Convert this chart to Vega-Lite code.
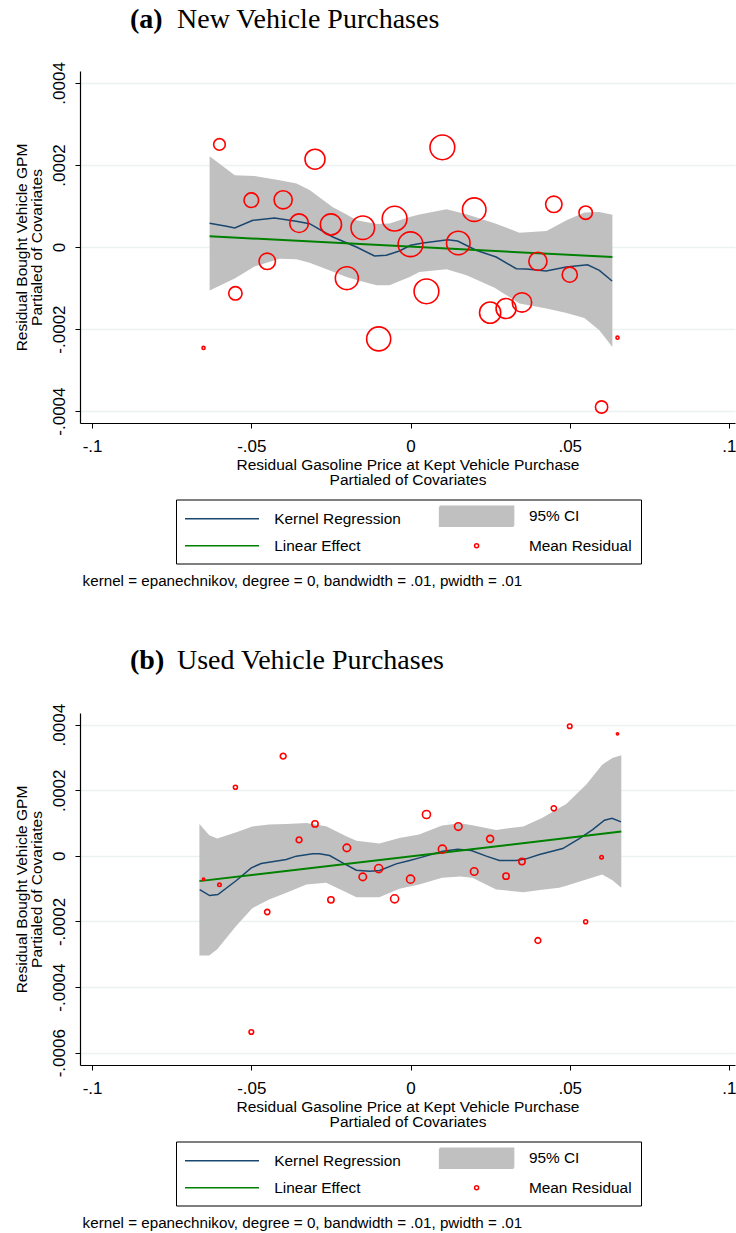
{
  "$schema": "https://vega.github.io/schema/vega-lite/v6.json",
  "background": "white",
  "padding": {"left": 14, "top": 5, "right": 0, "bottom": 5},
  "config": {
    "view": {"stroke": null},
    "font": "Liberation Sans",
    "axis": {
      "domainColor": "#000000", "domainWidth": 1.2, "tickColor": "#000000", "tickSize": 5, "tickWidth": 1,
      "labelFont": "Liberation Sans", "labelFontSize": 17, "labelColor": "#000000",
      "titleFont": "Liberation Sans", "titleFontSize": 15.5, "titleFontWeight": "normal", "titleColor": "#000000", "titleLineHeight": 15,
      "gridColor": "#eaf2f3", "gridWidth": 1.3, "labelOverlap": false, "labelFlush": false
    },
    "axisX": {"grid": false, "labelPadding": 10, "titlePadding": 3.5},
    "axisY": {"grid": true, "labelAngle": -90, "labelAlign": "center", "labelBaseline": "bottom", "labelPadding": 7, "titlePadding": 6},
    "legend": {
      "orient": "none", "legendX": 96, "legendY": 428.5, "columns": 2,
      "strokeColor": "#000000", "fillColor": "#ffffff", "padding": 9, "columnPadding": 35.6, "rowPadding": 8.5,
      "symbolSize": 16, "symbolStrokeWidth": 1.5, "symbolOffset": 29.3, "labelOffset": 44.6,
      "labelFont": "Liberation Sans", "labelFontSize": 15.4, "labelColor": "#000000", "labelLimit": 400
    },
    "title": {"font": "Liberation Serif", "fontSize": 28, "fontWeight": "normal", "color": "#000000", "anchor": "start", "frame": "group"}
  },
  "datasets": {
    "a_points": [
      {"x": -0.065, "y": -0.000246, "w": 3},
      {"x": -0.06, "y": 0.00025, "w": 43},
      {"x": -0.055, "y": -0.000113, "w": 57},
      {"x": -0.05, "y": 0.000114, "w": 68},
      {"x": -0.045, "y": -0.000035, "w": 86},
      {"x": -0.04, "y": 0.000115, "w": 105},
      {"x": -0.035, "y": 0.000058, "w": 111},
      {"x": -0.03, "y": 0.000214, "w": 127},
      {"x": -0.025, "y": 0.000055, "w": 143},
      {"x": -0.02, "y": -0.000076, "w": 168},
      {"x": -0.015, "y": 0.000047, "w": 176},
      {"x": -0.01, "y": -0.000224, "w": 184},
      {"x": -0.005, "y": 0.000069, "w": 195},
      {"x": 0, "y": 0.0000066, "w": 195},
      {"x": 0.005, "y": -0.000108, "w": 195},
      {"x": 0.01, "y": 0.000243, "w": 195},
      {"x": 0.015, "y": 0.0000098, "w": 176},
      {"x": 0.02, "y": 0.000091, "w": 176},
      {"x": 0.025, "y": -0.00016, "w": 143},
      {"x": 0.03, "y": -0.00015, "w": 127},
      {"x": 0.035, "y": -0.000135, "w": 120},
      {"x": 0.04, "y": -0.000035, "w": 105},
      {"x": 0.045, "y": 0.000104, "w": 86},
      {"x": 0.05, "y": -0.0000675, "w": 73},
      {"x": 0.055, "y": 0.0000837, "w": 57},
      {"x": 0.06, "y": -0.00039, "w": 48},
      {"x": 0.065, "y": -0.000221, "w": 3}
    ],
    "a_kernel": [
      {"x": -0.0631, "y": 0.0000578},
      {"x": -0.0578, "y": 0.0000505},
      {"x": -0.0552, "y": 0.0000463},
      {"x": -0.0495, "y": 0.0000651},
      {"x": -0.0427, "y": 0.0000707},
      {"x": -0.0359, "y": 0.0000627},
      {"x": -0.0317, "y": 0.0000568},
      {"x": -0.0244, "y": 0.0000244},
      {"x": -0.017, "y": 0.0},
      {"x": -0.0113, "y": -0.000022},
      {"x": -0.0076, "y": -0.0000202},
      {"x": -0.0035, "y": -0.0000098},
      {"x": 0.0, "y": 0.0000041},
      {"x": 0.0039, "y": 0.0000098},
      {"x": 0.0117, "y": 0.0000178},
      {"x": 0.0148, "y": 0.0000146},
      {"x": 0.0206, "y": -0.000008},
      {"x": 0.0269, "y": -0.0000244},
      {"x": 0.0332, "y": -0.0000529},
      {"x": 0.0363, "y": -0.0000537},
      {"x": 0.0426, "y": -0.0000585},
      {"x": 0.0489, "y": -0.0000488},
      {"x": 0.0556, "y": -0.0000432},
      {"x": 0.0593, "y": -0.0000568},
      {"x": 0.0633, "y": -0.0000829}
    ],
    "a_band": [
      {"x": -0.0631, "lo": -0.000106, "hi": 0.000221},
      {"x": -0.0552, "lo": -0.0000768, "hi": 0.000175},
      {"x": -0.049, "lo": -0.0000476, "hi": 0.000173},
      {"x": -0.0411, "lo": -0.0000285, "hi": 0.000163},
      {"x": -0.0358, "lo": -0.00003, "hi": 0.000155},
      {"x": -0.0317, "lo": -0.0000385, "hi": 0.000139},
      {"x": -0.0245, "lo": -0.0000598, "hi": 0.0000976},
      {"x": -0.0201, "lo": -0.0000732, "hi": 0.0000793},
      {"x": -0.0169, "lo": -0.0000805, "hi": 0.0000651},
      {"x": -0.0107, "lo": -0.0000934, "hi": 0.0000561},
      {"x": -0.0066, "lo": -0.0000934, "hi": 0.0000573},
      {"x": -0.0003, "lo": -0.0000732, "hi": 0.0000732},
      {"x": 0.0028, "lo": -0.000061, "hi": 0.0000793},
      {"x": 0.0113, "lo": -0.0000544, "hi": 0.000092},
      {"x": 0.0176, "lo": -0.000069, "hi": 0.0000798},
      {"x": 0.0264, "lo": -0.0000993, "hi": 0.000058},
      {"x": 0.0342, "lo": -0.000138, "hi": 0.0000349},
      {"x": 0.0427, "lo": -0.00015, "hi": 0.000039},
      {"x": 0.049, "lo": -0.000161, "hi": 0.0000651},
      {"x": 0.0546, "lo": -0.000173, "hi": 0.0000841},
      {"x": 0.0593, "lo": -0.000203, "hi": 0.0000854},
      {"x": 0.0634, "lo": -0.000244, "hi": 0.0000788}
    ],
    "a_linear": [
      {"x": -0.0631, "y": 0.0000261},
      {"x": 0.0634, "y": -0.0000244}
    ],
    "b_points": [
      {"x": -0.065, "y": -0.000071, "w": 1.6},
      {"x": -0.06, "y": -0.0000883, "w": 3.8},
      {"x": -0.055, "y": 0.000209, "w": 5.1},
      {"x": -0.05, "y": -0.000537, "w": 6.6},
      {"x": -0.045, "y": -0.000171, "w": 8.7},
      {"x": -0.04, "y": 0.000304, "w": 10.6},
      {"x": -0.035, "y": 0.0000487, "w": 10.6},
      {"x": -0.03, "y": 0.0000975, "w": 12.6},
      {"x": -0.025, "y": -0.000134, "w": 12.6},
      {"x": -0.02, "y": 0.0000244, "w": 18},
      {"x": -0.015, "y": -0.000064, "w": 18},
      {"x": -0.01, "y": -0.0000387, "w": 20.7},
      {"x": -0.005, "y": -0.000131, "w": 20.7},
      {"x": 0, "y": -0.000071, "w": 20.7},
      {"x": 0.005, "y": 0.000126, "w": 20.7},
      {"x": 0.01, "y": 0.0000204, "w": 20.7},
      {"x": 0.015, "y": 0.0000893, "w": 18},
      {"x": 0.02, "y": -0.0000477, "w": 18},
      {"x": 0.025, "y": 0.0000518, "w": 15.6},
      {"x": 0.03, "y": -0.0000619, "w": 12.6},
      {"x": 0.035, "y": -0.0000173, "w": 12.6},
      {"x": 0.04, "y": -0.000258, "w": 10.6},
      {"x": 0.045, "y": 0.000145, "w": 8.7},
      {"x": 0.05, "y": 0.000395, "w": 6.6},
      {"x": 0.055, "y": -0.000201, "w": 5.1},
      {"x": 0.06, "y": -0.000004, "w": 3.8},
      {"x": 0.065, "y": 0.000372, "w": 1.6}
    ],
    "b_kernel": [
      {"x": -0.0662, "y": -0.0001026},
      {"x": -0.0631, "y": -0.0001209},
      {"x": -0.0605, "y": -0.0001179},
      {"x": -0.0547, "y": -0.0000752},
      {"x": -0.05, "y": -0.0000365},
      {"x": -0.0469, "y": -0.0000235},
      {"x": -0.039, "y": -0.0000113},
      {"x": -0.0359, "y": -0.0000009},
      {"x": -0.0307, "y": 0.0000061},
      {"x": -0.0286, "y": 0.0000061},
      {"x": -0.0254, "y": 0.0000009},
      {"x": -0.0213, "y": -0.0000213},
      {"x": -0.017, "y": -0.0000436},
      {"x": -0.0129, "y": -0.0000466},
      {"x": -0.0097, "y": -0.0000448},
      {"x": -0.0045, "y": -0.0000244},
      {"x": -0.0003, "y": -0.0000143},
      {"x": 0.0028, "y": -0.0000061},
      {"x": 0.0101, "y": 0.0000143},
      {"x": 0.0148, "y": 0.0000204},
      {"x": 0.0191, "y": 0.0000161},
      {"x": 0.0238, "y": -0.0000009},
      {"x": 0.0279, "y": -0.0000143},
      {"x": 0.0332, "y": -0.0000143},
      {"x": 0.0363, "y": -0.0000091},
      {"x": 0.0405, "y": 0.000004},
      {"x": 0.0478, "y": 0.0000222},
      {"x": 0.053, "y": 0.0000527},
      {"x": 0.0572, "y": 0.0000801},
      {"x": 0.0609, "y": 0.0001087},
      {"x": 0.0633, "y": 0.0001148},
      {"x": 0.0661, "y": 0.0001036}
    ],
    "b_band": [
      {"x": -0.0663, "lo": -0.0003037, "hi": 0.0000975},
      {"x": -0.0632, "lo": -0.0003037, "hi": 0.000063},
      {"x": -0.0607, "lo": -0.0002848, "hi": 0.0000527},
      {"x": -0.0547, "lo": -0.0002132, "hi": 0.0000722},
      {"x": -0.0497, "lo": -0.0001593, "hi": 0.0000898},
      {"x": -0.0444, "lo": -0.0001331, "hi": 0.0000959},
      {"x": -0.039, "lo": -0.0001127, "hi": 0.0000975},
      {"x": -0.0327, "lo": -0.0000874, "hi": 0.0001005},
      {"x": -0.0265, "lo": -0.0000822, "hi": 0.0000905},
      {"x": -0.0202, "lo": -0.0001106, "hi": 0.00006},
      {"x": -0.017, "lo": -0.0001258, "hi": 0.0000463},
      {"x": -0.0098, "lo": -0.0001258, "hi": 0.0000375},
      {"x": -0.0035, "lo": -0.0001005, "hi": 0.0000548},
      {"x": 0.0027, "lo": -0.0000874, "hi": 0.0000649},
      {"x": 0.0099, "lo": -0.000067, "hi": 0.0000923},
      {"x": 0.0156, "lo": -0.000063, "hi": 0.0000996},
      {"x": 0.0194, "lo": -0.000067, "hi": 0.0000935},
      {"x": 0.0269, "lo": -0.0001026, "hi": 0.0000792},
      {"x": 0.0354, "lo": -0.0001106, "hi": 0.0000898},
      {"x": 0.0413, "lo": -0.0001036, "hi": 0.0001151},
      {"x": 0.0467, "lo": -0.0000975, "hi": 0.0001462},
      {"x": 0.0489, "lo": -0.0000914, "hi": 0.0001584},
      {"x": 0.0552, "lo": -0.0000722, "hi": 0.0002172},
      {"x": 0.0602, "lo": -0.000057, "hi": 0.0002781},
      {"x": 0.0634, "lo": -0.0000746, "hi": 0.0002985},
      {"x": 0.0662, "lo": -0.0000975, "hi": 0.0003067}
    ],
    "b_linear": [
      {"x": -0.0663, "y": -0.000077},
      {"x": 0.0662, "y": 0.000074}
    ]
  },
  "spacing": 57,
  "resolve": {"scale": {"color": "independent", "size": "independent", "shape": "independent"}, "legend": {"color": "independent", "size": "independent", "shape": "independent"}},
  "vconcat": [
    {
      "title": {"text": "(a)", "fontWeight": "bold", "dx": 50, "dy": 28, "offset": 0},
      "resolve": {"scale": {"color": "independent", "size": "independent", "shape": "independent"}, "legend": {"color": "independent", "size": "independent", "shape": "independent"}},
      "vconcat": [
        {
          "title": {"text": "New Vehicle Purchases", "dx": 97, "offset": 28},
          "resolve": {"scale": {"color": "independent", "size": "independent", "shape": "independent"}, "legend": {"color": "independent", "size": "independent", "shape": "independent"}},
          "vconcat": [
            {
              "title": {"text": "kernel = epanechnikov, degree = 0, bandwidth = .01, pwidth = .01", "orient": "bottom", "anchor": "start", "frame": "group", "font": "Liberation Sans", "fontSize": 15.2, "fontWeight": "normal", "offset": 10, "dx": 2.6},
              "width": 655,
              "height": 352,
              "encoding": {
                "x": {"field": "x", "type": "quantitative", "scale": {"domain": [-0.1038, 0.1019], "nice": false, "zero": false},
                  "axis": {"values": [-0.1, -0.05, 0, 0.05, 0.1], "labelExpr": "datum.value == 0 ? '0' : replace(toString(datum.value), regexp('^(-?)0[.]'), '$1.')", "title": ["Residual Gasoline Price at Kept Vehicle Purchase", "Partialed of Covariates"]}},
                "y": {"field": "y", "type": "quantitative", "scale": {"domain": [-0.000429, 0.000429], "nice": false, "zero": false},
                  "axis": {"values": [-0.0004, -0.0002, 0, 0.0002, 0.0004], "labelExpr": "datum.value == 0 ? '0' : replace(toString(datum.value), regexp('^(-?)0[.]'), '$1.')", "title": ["Residual Bought Vehicle GPM", "Partialed of Covariates"]}}
              },
              "layer": [
                {
                  "data": {"name": "a_band"},
                  "mark": {"type": "area", "color": "#c0c0c0", "opacity": 1},
                  "encoding": {
                    "y": {"field": "lo", "type": "quantitative", "scale": {"domain": [-0.000429, 0.000429], "nice": false, "zero": false},
                      "axis": {"values": [-0.0004, -0.0002, 0, 0.0002, 0.0004], "labelExpr": "datum.value == 0 ? '0' : replace(toString(datum.value), regexp('^(-?)0[.]'), '$1.')", "title": ["Residual Bought Vehicle GPM", "Partialed of Covariates"]}},
                    "y2": {"field": "hi"}
                  }
                },
                {
                  "data": {"name": "a_kernel"},
                  "mark": {"type": "line", "color": "#1a476f", "strokeWidth": 1.5},
                  "encoding": {}
                },
                {
                  "data": {"name": "a_linear"},
                  "mark": {"type": "line", "color": "#008000", "strokeWidth": 2},
                  "encoding": {}
                },
                {
                  "data": {"name": "a_points"},
                  "mark": {"type": "point", "filled": false, "strokeWidth": 1.6, "opacity": 1},
                  "encoding": {
                    "size": {"field": "w", "type": "quantitative", "scale": {"type": "linear", "domain": [0, 200], "range": [0, 628]}, "legend": null},
                    "color": {"datum": "Mean Residual", "type": "nominal",
                      "scale": {"domain": ["Kernel Regression", "Linear Effect", "95% CI", "Mean Residual"], "range": ["#1a476f", "#008000", "#c0c0c0", "#ff0000"]},
                      "legend": {"title": null}},
                    "shape": {"datum": "Mean Residual", "type": "nominal",
                      "scale": {"domain": ["Kernel Regression", "Linear Effect", "95% CI", "Mean Residual"], "range": ["M-18.5,0H18.5", "M-18.5,0H18.5", "M-18.5,-5H18.5V-4.375H-18.5V-3.75H18.5V-3.125H-18.5V-2.5H18.5V-1.875H-18.5V-1.25H18.5V-0.625H-18.5V0H18.5V0.625H-18.5V1.25H18.5V1.875H-18.5V2.5H18.5V3.125H-18.5V3.75H18.5V4.375H-18.5V5H18.5", "circle"]},
                      "legend": {"title": null}}
                  }
                }
              ]
            }
          ]
        }
      ]
    },
    {
      "title": {"text": "(b)", "fontWeight": "bold", "dx": 50, "dy": 28, "offset": 0},
      "resolve": {"scale": {"color": "independent", "size": "independent", "shape": "independent"}, "legend": {"color": "independent", "size": "independent", "shape": "independent"}},
      "vconcat": [
        {
          "title": {"text": "Used Vehicle Purchases", "dx": 97, "offset": 28},
          "resolve": {"scale": {"color": "independent", "size": "independent", "shape": "independent"}, "legend": {"color": "independent", "size": "independent", "shape": "independent"}},
          "vconcat": [
            {
              "title": {"text": "kernel = epanechnikov, degree = 0, bandwidth = .01, pwidth = .01", "orient": "bottom", "anchor": "start", "frame": "group", "font": "Liberation Sans", "fontSize": 15.2, "fontWeight": "normal", "offset": 10, "dx": 2.6},
              "width": 655,
              "height": 352,
              "encoding": {
                "x": {"field": "x", "type": "quantitative", "scale": {"domain": [-0.1038, 0.1019], "nice": false, "zero": false},
                  "axis": {"values": [-0.1, -0.05, 0, 0.05, 0.1], "labelExpr": "datum.value == 0 ? '0' : replace(toString(datum.value), regexp('^(-?)0[.]'), '$1.')", "title": ["Residual Gasoline Price at Kept Vehicle Purchase", "Partialed of Covariates"]}},
                "y": {"field": "y", "type": "quantitative", "scale": {"domain": [-0.0006375, 0.0004355], "nice": false, "zero": false},
                  "axis": {"values": [-0.0006, -0.0004, -0.0002, 0, 0.0002, 0.0004], "labelExpr": "datum.value == 0 ? '0' : replace(toString(datum.value), regexp('^(-?)0[.]'), '$1.')", "title": ["Residual Bought Vehicle GPM", "Partialed of Covariates"]}}
              },
              "layer": [
                {
                  "data": {"name": "b_band"},
                  "mark": {"type": "area", "color": "#c0c0c0", "opacity": 1},
                  "encoding": {
                    "y": {"field": "lo", "type": "quantitative", "scale": {"domain": [-0.0006375, 0.0004355], "nice": false, "zero": false},
                      "axis": {"values": [-0.0006, -0.0004, -0.0002, 0, 0.0002, 0.0004], "labelExpr": "datum.value == 0 ? '0' : replace(toString(datum.value), regexp('^(-?)0[.]'), '$1.')", "title": ["Residual Bought Vehicle GPM", "Partialed of Covariates"]}},
                    "y2": {"field": "hi"}
                  }
                },
                {
                  "data": {"name": "b_kernel"},
                  "mark": {"type": "line", "color": "#1a476f", "strokeWidth": 1.5},
                  "encoding": {}
                },
                {
                  "data": {"name": "b_linear"},
                  "mark": {"type": "line", "color": "#008000", "strokeWidth": 2},
                  "encoding": {}
                },
                {
                  "data": {"name": "b_points"},
                  "mark": {"type": "point", "filled": false, "strokeWidth": 1.6, "opacity": 1},
                  "encoding": {
                    "size": {"field": "w", "type": "quantitative", "scale": {"type": "linear", "domain": [0, 200], "range": [0, 628]}, "legend": null},
                    "color": {"datum": "Mean Residual", "type": "nominal",
                      "scale": {"domain": ["Kernel Regression", "Linear Effect", "95% CI", "Mean Residual"], "range": ["#1a476f", "#008000", "#c0c0c0", "#ff0000"]},
                      "legend": {"title": null}},
                    "shape": {"datum": "Mean Residual", "type": "nominal",
                      "scale": {"domain": ["Kernel Regression", "Linear Effect", "95% CI", "Mean Residual"], "range": ["M-18.5,0H18.5", "M-18.5,0H18.5", "M-18.5,-5H18.5V-4.375H-18.5V-3.75H18.5V-3.125H-18.5V-2.5H18.5V-1.875H-18.5V-1.25H18.5V-0.625H-18.5V0H18.5V0.625H-18.5V1.25H18.5V1.875H-18.5V2.5H18.5V3.125H-18.5V3.75H18.5V4.375H-18.5V5H18.5", "circle"]},
                      "legend": {"title": null}}
                  }
                }
              ]
            }
          ]
        }
      ]
    }
  ]
}
